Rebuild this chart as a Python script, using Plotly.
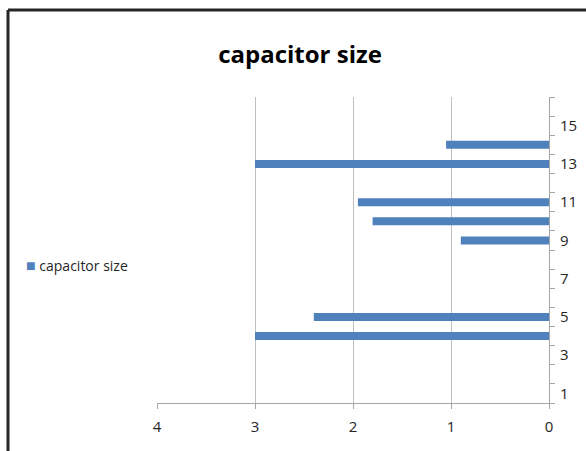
import plotly.graph_objects as go

categories = list(range(1, 17))
values = [None, None, None, 3.0, 2.4, None, None, None, 0.9, 1.8, 1.95, None, 3.0, 1.05, None, None]
series_name = "capacitor size"
title_text = "capacitor size"
x_ticks = [4, 3, 2, 1, 0]
y_tick_labels = [1, 3, 5, 7, 9, 11, 13, 15]

W, H = 586, 451
L, R, T, B = 157, 37, 97, 48
pw, ph = W - L - R, H - T - B

bar_color = "#4f81bd"

fig = go.Figure()
fig.add_trace(go.Bar(
    x=values, y=categories, orientation="h", name=series_name,
    marker=dict(color=bar_color, line=dict(width=0)),
    showlegend=False,
))

font_family = "Open Sans, Noto Sans, sans-serif"

def px_x(p):
    return (p - L) / pw

def px_y(p):
    return 1 - (p - T) / ph

fig.update_layout(
    width=W, height=H,
    margin=dict(l=L, r=R, t=T, b=B, autoexpand=False),
    paper_bgcolor="white", plot_bgcolor="white",
    bargap=0.58,
    font=dict(family=font_family, color="#262626"),
    title=dict(text="<b>%s</b>" % title_text, x=300 / W, xref="container", xanchor="center",
               y=1 - 55 / H, yref="container", yanchor="middle",
               font=dict(size=24, color="black", family=font_family)),
    xaxis=dict(range=[4, 0], tickvals=x_ticks, ticktext=[str(v) for v in x_ticks],
               automargin=False,
               showgrid=True, gridcolor="#bfbfbf", gridwidth=1,
               showline=True, linecolor="#a6a6a6", linewidth=1,
               ticks="outside", ticklen=5, tickcolor="#a6a6a6", ticklabelstandoff=5,
               tickfont=dict(size=15, color="#262626"), zeroline=False),
    yaxis=dict(range=[0.5, 16.5], side="right", tickvals=y_tick_labels,
               ticktext=[str(v) for v in y_tick_labels],
               automargin=False,
               showgrid=False, showline=True, linecolor="#a6a6a6", linewidth=1,
               ticks="", ticklabelstandoff=7,
               minor=dict(tickvals=[c + 0.5 for c in [0] + categories], ticks="outside",
                          ticklen=5, tickcolor="#a6a6a6", showgrid=False),
               tickfont=dict(size=15, color="#262626"), zeroline=False),
)

# legend entry (series key)
fig.add_annotation(
    text="<span style='color:%s;font-size:16px'>■</span> %s" % (bar_color, series_name),
    xref="paper", yref="paper", x=px_x(24), y=px_y(265),
    xanchor="left", yanchor="middle", showarrow=False,
    font=dict(size=14, color="#262626", family=font_family),
)

# outer chart border (top and left edges visible)
x0 = px_x(8)
y_top = px_y(10)
fig.add_shape(type="line", xref="paper", yref="paper", x0=x0, x1=px_x(600), y0=y_top, y1=y_top,
              line=dict(color="#262626", width=3))
fig.add_shape(type="line", xref="paper", yref="paper", x0=x0, x1=x0, y0=y_top, y1=px_y(460),
              line=dict(color="#262626", width=3))

fig.write_html("out.html", config=dict(displayModeBar=False),
               post_script="document.body.style.margin='0';document.body.style.overflow='hidden';")
